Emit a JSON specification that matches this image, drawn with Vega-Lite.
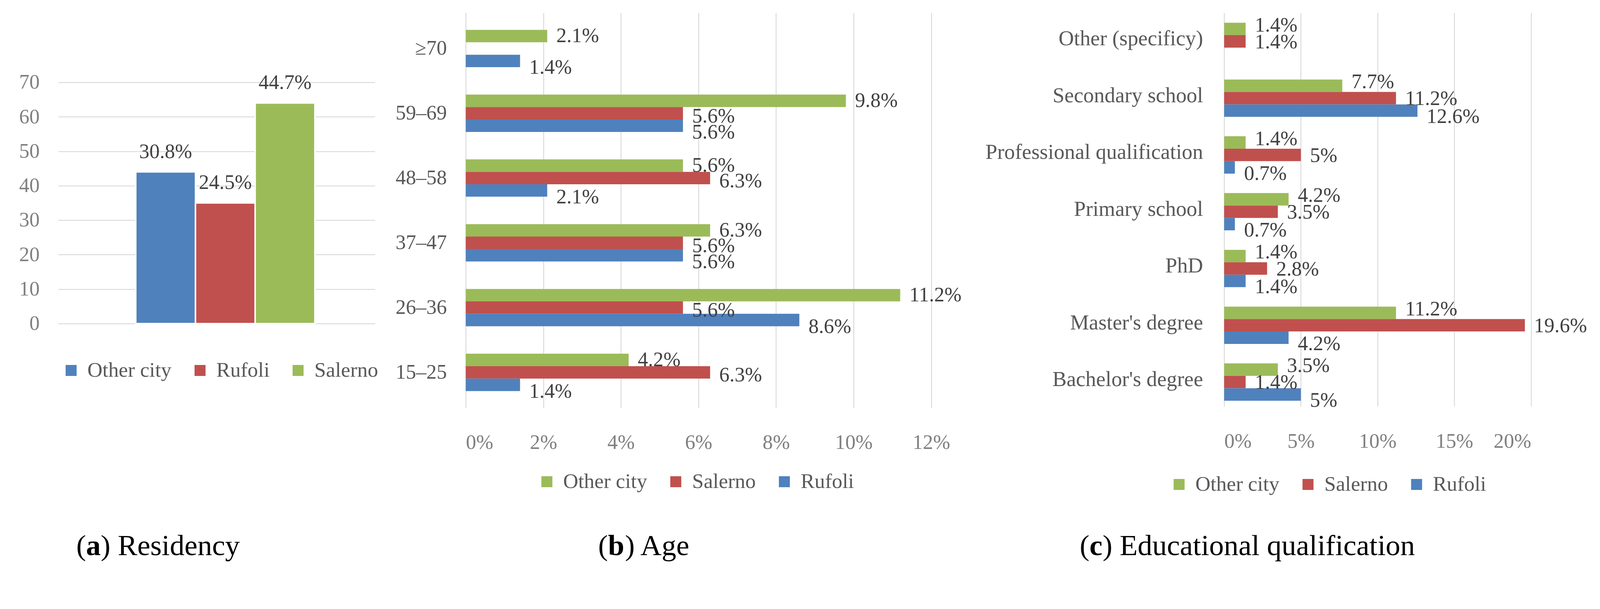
{
  "$schema": "https://vega.github.io/schema/vega-lite/v6.json",
  "background": "white",
  "padding": {"left": 47.8, "top": 32.8, "right": 5, "bottom": 5},
  "bounds": "flush",
  "spacing": 232.5,
  "config": {
    "font": "Liberation Serif",
    "view": {"stroke": null},
    "axis": {"labelFont": "Liberation Serif", "titleFont": "Liberation Serif"},
    "legend": {"labelFont": "Liberation Serif"}
  },
  "resolve": {"scale": {"color": "independent"}, "legend": {"color": "independent"}},
  "hconcat": [
    {
      "width": 811,
      "height": 796,
      "data": {"values": [
        {"group": "Residency", "residence": "Other city", "count": 44, "pct": 0.308},
        {"group": "Residency", "residence": "Rufoli", "count": 35, "pct": 0.245},
        {"group": "Residency", "residence": "Salerno", "count": 64, "pct": 0.447}
      ]},
      "encoding": {
        "x": {"field": "group", "type": "nominal",
          "scale": {"paddingInner": 0, "paddingOuter": 0.3845, "align": 0.564},
          "axis": {"labels": false, "ticks": false, "domain": false, "grid": false,
            "title": "(\u2002) Residency", "titleX": 45.9, "titleY": 592.5, "titleAlign": "left",
            "titleBaseline": "alphabetic", "titleFontSize": 75, "titleFontWeight": "normal", "titleColor": "#000000"}},
        "xOffset": {"field": "residence", "type": "nominal",
          "scale": {"domain": ["Other city", "Rufoli", "Salerno"], "paddingInner": 0}},
        "y": {"field": "count", "type": "quantitative",
          "scale": {"domain": [0, 90.18], "nice": false},
          "axis": {"values": [0, 10, 20, 30, 40, 50, 60, 70], "domain": false, "ticks": false, "tickSize": 0,
            "labelPadding": 47.8, "labelFontSize": 52.5, "labelColor": "#808080",
            "grid": true, "gridColor": "#D9D9D9", "gridWidth": 2.3,
            "title": "a", "titleAngle": 0, "titleX": 70.9, "titleY": 1388.4, "titleAlign": "left", "titleBaseline": "alphabetic",
            "titleFontSize": 75, "titleFontWeight": "bold", "titleColor": "#000000"}}
      },
      "layer": [
        {
          "mark": {"type": "bar", "stroke": "white", "strokeWidth": 3.75},
          "encoding": {
            "color": {"field": "residence", "type": "nominal",
              "scale": {"domain": ["Other city", "Rufoli", "Salerno"], "range": ["#4F81BD", "#C0504D", "#9BBB59"]},
              "legend": {"orient": "none", "legendX": 6.6, "legendY": 889, "direction": "horizontal", "columns": 3,
                "title": null, "symbolType": "square", "symbolSize": 791, "symbolStrokeWidth": 0,
                "labelFontSize": 53.4, "labelColor": "#595959", "labelOffset": 15, "columnPadding": 46,
                "labelLimit": 1000, "padding": 0}}
          }
        },
        {
          "mark": {"type": "text", "baseline": "alphabetic", "dy": -35.6, "fontSize": 52.5, "color": "#404040"},
          "encoding": {"text": {"field": "pct", "type": "quantitative", "format": ".1%"}}
        }
      ]
    },
    {
      "width": 1709,
      "height": 1012.5,
      "data": {"values": [
        {"age": "≥70", "series": "Other city", "share": 0.021},
        {"age": "≥70", "series": "Rufoli", "share": 0.014},
        {"age": "59–69", "series": "Other city", "share": 0.098},
        {"age": "59–69", "series": "Salerno", "share": 0.056},
        {"age": "59–69", "series": "Rufoli", "share": 0.056},
        {"age": "48–58", "series": "Other city", "share": 0.056},
        {"age": "48–58", "series": "Salerno", "share": 0.063},
        {"age": "48–58", "series": "Rufoli", "share": 0.021},
        {"age": "37–47", "series": "Other city", "share": 0.063},
        {"age": "37–47", "series": "Salerno", "share": 0.056},
        {"age": "37–47", "series": "Rufoli", "share": 0.056},
        {"age": "26–36", "series": "Other city", "share": 0.112},
        {"age": "26–36", "series": "Salerno", "share": 0.056},
        {"age": "26–36", "series": "Rufoli", "share": 0.086},
        {"age": "15–25", "series": "Other city", "share": 0.042},
        {"age": "15–25", "series": "Salerno", "share": 0.063},
        {"age": "15–25", "series": "Rufoli", "share": 0.014}
      ]},
      "encoding": {
        "y": {"field": "age", "type": "nominal",
          "scale": {"domain": ["≥70", "59–69", "48–58", "37–47", "26–36", "15–25"], "paddingInner": 0.424, "paddingOuter": 0.263},
          "axis": {"domain": false, "ticks": false, "tickSize": 0, "labelPadding": 48.75,
            "labelFontSize": 52.5, "labelColor": "#595959", "labelLimit": 1000,
            "title": "b", "titleAngle": 0, "titleX": 363.75, "titleY": 1388.4, "titleAlign": "left", "titleBaseline": "alphabetic",
            "titleFontSize": 75, "titleFontWeight": "bold", "titleColor": "#000000"}},
        "yOffset": {"field": "series", "type": "nominal",
          "scale": {"domain": ["Other city", "Salerno", "Rufoli"], "paddingInner": 0}},
        "x": {"field": "share", "type": "quantitative",
          "scale": {"domain": [0, 0.1721], "nice": false},
          "axis": {"values": [0, 0.02, 0.04, 0.06, 0.08, 0.1, 0.12], "format": ".0%", "domain": false, "ticks": false, "tickSize": 0,
            "labelPadding": 63, "labelFontSize": 52.5, "labelColor": "#808080",
            "grid": true, "gridColor": "#D9D9D9", "gridWidth": 2.3,
            "title": "(\u2002\u200a) Age", "titleX": 338.4, "titleY": 375.9, "titleAlign": "left", "titleBaseline": "alphabetic",
            "titleFontSize": 75, "titleFontWeight": "normal", "titleColor": "#000000"}}
      },
      "layer": [
        {
          "mark": {"type": "bar"},
          "encoding": {
            "color": {"field": "series", "type": "nominal",
              "scale": {"domain": ["Other city", "Salerno", "Rufoli"], "range": ["#9BBB59", "#C0504D", "#4F81BD"]},
              "legend": {"orient": "none", "legendX": 181, "legendY": 1174, "direction": "horizontal", "columns": 3,
                "title": null, "symbolType": "square", "symbolSize": 791, "symbolStrokeWidth": 0,
                "labelFontSize": 53.4, "labelColor": "#595959", "labelOffset": 15, "columnPadding": 46,
                "labelLimit": 1000, "padding": 0}}
          }
        },
        {
          "mark": {"type": "text", "align": "left", "baseline": "middle", "dx": 23.4, "fontSize": 52.5, "color": "#404040",
            "dy": {"expr": "datum.series == 'Rufoli' ? 16.9 : datum.series == 'Salerno' ? 7.5 : 0"}},
          "encoding": {"text": {"field": "share", "type": "quantitative", "format": ".1~%"}}
        }
      ]
    },
    {
      "width": 785.6,
      "height": 1007.8,
      "data": {"values": [
        {"level": "Other (specificy)", "series": "Other city", "share": 0.014},
        {"level": "Other (specificy)", "series": "Salerno", "share": 0.014},
        {"level": "Secondary school", "series": "Other city", "share": 0.077},
        {"level": "Secondary school", "series": "Salerno", "share": 0.112},
        {"level": "Secondary school", "series": "Rufoli", "share": 0.126},
        {"level": "Professional qualification", "series": "Other city", "share": 0.014},
        {"level": "Professional qualification", "series": "Salerno", "share": 0.05},
        {"level": "Professional qualification", "series": "Rufoli", "share": 0.007},
        {"level": "Primary school", "series": "Other city", "share": 0.042},
        {"level": "Primary school", "series": "Salerno", "share": 0.035},
        {"level": "Primary school", "series": "Rufoli", "share": 0.007},
        {"level": "PhD", "series": "Other city", "share": 0.014},
        {"level": "PhD", "series": "Salerno", "share": 0.028},
        {"level": "PhD", "series": "Rufoli", "share": 0.014},
        {"level": "Master's degree", "series": "Other city", "share": 0.112},
        {"level": "Master's degree", "series": "Salerno", "share": 0.196},
        {"level": "Master's degree", "series": "Rufoli", "share": 0.042},
        {"level": "Bachelor's degree", "series": "Other city", "share": 0.035},
        {"level": "Bachelor's degree", "series": "Salerno", "share": 0.014},
        {"level": "Bachelor's degree", "series": "Rufoli", "share": 0.05}
      ]},
      "encoding": {
        "y": {"field": "level", "type": "nominal",
          "scale": {"domain": ["Other (specificy)", "Secondary school", "Professional qualification", "Primary school", "PhD", "Master's degree", "Bachelor's degree"],
            "paddingInner": 0.42, "paddingOuter": 0.175},
          "axis": {"domain": false, "ticks": false, "tickSize": 0, "labelPadding": 54.4,
            "labelFontSize": 54.4, "labelColor": "#595959", "labelLimit": 1000,
            "title": "c", "titleAngle": 0, "titleX": -345.4, "titleY": 1388.4, "titleAlign": "left", "titleBaseline": "alphabetic",
            "titleFontSize": 75, "titleFontWeight": "bold", "titleColor": "#000000"}},
        "yOffset": {"field": "series", "type": "nominal",
          "scale": {"domain": ["Other city", "Salerno", "Rufoli"], "paddingInner": 0}},
        "x": {"field": "share", "type": "quantitative",
          "scale": {"domain": [0, 0.2], "nice": false},
          "axis": {"values": [0, 0.05, 0.1, 0.15, 0.2], "format": ".0%", "domain": false, "ticks": false, "tickSize": 0,
            "labelPadding": 65, "labelFontSize": 52.5, "labelColor": "#808080",
            "grid": true, "gridColor": "#D9D9D9", "gridWidth": 2.3,
            "title": "(\u2005\u2009) Educational qualification", "titleX": -370.3, "titleY": 380.6, "titleAlign": "left", "titleBaseline": "alphabetic",
            "titleFontSize": 75, "titleFontWeight": "normal", "titleColor": "#000000"}}
      },
      "layer": [
        {
          "mark": {"type": "bar"},
          "encoding": {
            "color": {"field": "series", "type": "nominal",
              "scale": {"domain": ["Other city", "Salerno", "Rufoli"], "range": ["#9BBB59", "#C0504D", "#4F81BD"]},
              "legend": {"orient": "none", "legendX": -142, "legendY": 1181, "direction": "horizontal", "columns": 3,
                "title": null, "symbolType": "square", "symbolSize": 791, "symbolStrokeWidth": 0,
                "labelFontSize": 53.4, "labelColor": "#595959", "labelOffset": 15, "columnPadding": 46,
                "labelLimit": 1000, "padding": 0}}
          }
        },
        {
          "mark": {"type": "text", "align": "left", "baseline": "middle", "dx": 23.4, "fontSize": 52.5, "color": "#404040",
            "dy": {"expr": "datum.series == 'Rufoli' ? 15.9 : datum.series == 'Salerno' ? 1.9 : -9.4"}},
          "encoding": {"text": {"field": "share", "type": "quantitative", "format": ".1~%"}}
        }
      ]
    }
  ]
}
